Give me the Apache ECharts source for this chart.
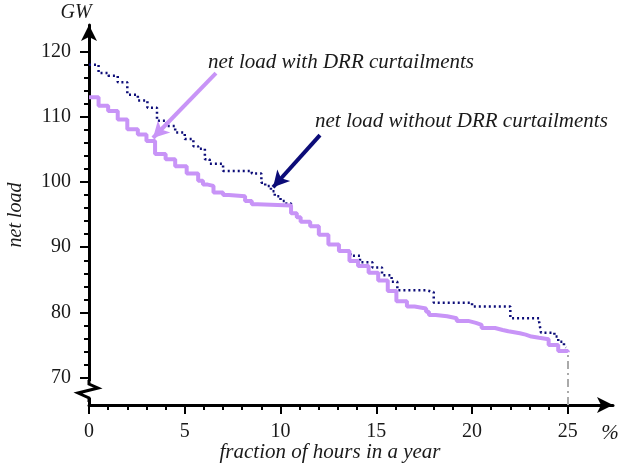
<!DOCTYPE html>
<html><head><meta charset="utf-8">
<script src="https://cdn.jsdelivr.net/npm/echarts@6/dist/echarts.min.js"></script>
<style>html,body{margin:0;padding:0;background:#fff}#c{width:618px;height:468px}</style>
</head><body><div id="c"></div>
<script>
// fraction of hours in a year (%) where each load level starts
const withDrrX = [0,0.5,1.0,1.5,2.0,2.55,3.0,3.45,4.0,4.5,5.1,5.7,5.95,6.2,6.5,7.0,7.3,8.15,8.5,8.8,10.55,10.85,11.05,11.55,12.0,12.5,13.05,13.6,14.05,14.6,15.1,15.6,16.05,16.6,17.0,17.6,17.75,18.1,18.7,19.2,19.8,20.2,20.5,21.2,21.6,21.9,22.5,22.8,23.1,23.5,24.0,24.5,25.0];
const withDrrY = [113.0,111.7,110.9,109.6,108.1,107.3,106.3,104.3,103.5,102.4,101.3,100.2,99.6,99.4,98.4,98.0,97.8,97.1,96.6,96.4,95.2,94.6,93.9,93.2,91.9,90.4,89.4,87.9,87.1,86.1,84.9,83.3,81.7,80.9,80.6,80.1,79.6,79.4,79.1,78.7,78.4,78.1,77.6,77.3,77.1,76.8,76.6,76.3,76.1,75.9,75.0,74.1,73.9];
const withoutDrrX = [0,0.5,1.0,1.5,2.0,2.55,3.05,3.55,4.05,4.5,5.0,5.45,5.7,6.05,6.3,7.0,8.5,9.0,9.2,9.5,9.7,10.0,10.3,10.55,10.85,11.05,11.55,12.0,12.5,13.05,13.65,14.15,14.8,15.3,15.8,16.1,17.6,18.0,20.0,22.0,23.5,23.6,24.3,24.5,24.8,24.9];
const withoutDrrY = [118.0,116.7,116.3,115.3,113.4,112.5,111.4,109.4,108.6,107.6,106.6,105.5,105.1,103.5,102.8,101.7,101.3,99.9,99.4,98.6,97.8,97.1,96.7,95.2,94.6,93.9,93.2,91.9,90.4,89.4,88.7,87.7,86.9,85.7,84.7,83.4,83.1,81.5,80.9,79.1,78.6,76.9,76.3,75.5,74.9,74.6];

const xMajorTicks = [0,5,10,15,20,25];
const xMinorTicks = [1,2,3,4,6,7,8,9,11,12,13,14,16,17,18,19,21,22,23,24];
const yMajorTicks = [70,80,90,100,110,120];
const yMinorTicks = [72,74,76,78,82,84,86,88,92,94,96,98,102,104,106,108,112,114,116,118];
const xRange = [0,27.36];
const yRange = [65.8,124.08];

const labelWith = 'net load with DRR curtailments';
const labelWithout = 'net load without DRR curtailments';
const arrowWith = [[6.63,116.7],[3.34,106.75]];
const arrowWithout = [[12.06,107.2],[9.61,99.2]];
const endMarker = [[25,65.8],[25,73.9]];

const PURPLE = '#c894f7';
const NAVY = '#0c0c78';
const FONT = "'Liberation Serif', 'Times New Roman', serif";

const chart = echarts.init(document.getElementById('c'), null, {renderer:'canvas'});
const toPairs = (xs, ys) => xs.map((x,i)=>[x,ys[i]]);

const option = {
  animation:false,
  backgroundColor:'#fff',
  textStyle:{fontFamily:FONT},
  grid:{left:89,right:5,top:25,bottom:63,containLabel:false,outerBoundsMode:'none'},
  xAxis:[{
    type:'value', min:xRange[0], max:xRange[1], position:'bottom',
    axisLine:{show:true,lineStyle:{color:'#000',width:3},symbol:['none','arrow'],symbolSize:[12,16]},
    axisTick:{show:true,customValues:xMajorTicks,length:9,lineStyle:{color:'#000',width:2}},
    axisLabel:{show:true,customValues:xMajorTicks,margin:17,color:'#1a1a1a',fontSize:20,fontFamily:FONT},
    splitLine:{show:false}
  },{
    type:'value', min:xRange[0], max:xRange[1], position:'bottom', gridIndex:0,
    axisLine:{show:false},
    axisTick:{show:true,customValues:xMinorTicks,length:5,lineStyle:{color:'#000',width:2}},
    axisLabel:{show:false},
    splitLine:{show:false}
  }],
  yAxis:[{
    type:'value', min:yRange[0], max:yRange[1], position:'left',
    name:'net load', nameLocation:'middle', nameGap:63, nameRotate:90,
    nameTextStyle:{fontFamily:FONT,fontStyle:'italic',fontSize:20,color:'#1a1a1a'},
    axisLine:{show:true,lineStyle:{color:'#000',width:3},symbol:['none','arrow'],symbolSize:[12,16]},
    axisTick:{show:true,customValues:yMajorTicks,length:9,lineStyle:{color:'#000',width:2}},
    axisLabel:{show:true,customValues:yMajorTicks,margin:18,color:'#1a1a1a',fontSize:20,fontFamily:FONT},
    splitLine:{show:false}
  },{
    type:'value', min:yRange[0], max:yRange[1], position:'left', gridIndex:0,
    axisLine:{show:false},
    axisTick:{show:true,customValues:yMinorTicks,length:5,lineStyle:{color:'#000',width:2}},
    axisLabel:{show:false},
    splitLine:{show:false}
  }],
  series:[{
    name:labelWithout, type:'line', step:'end', xAxisIndex:0, yAxisIndex:0,
    data:toPairs(withoutDrrX, withoutDrrY), showSymbol:false, z:2,
    lineStyle:{color:NAVY,width:2.5,type:[2,3]},
    markLine:{silent:true,symbol:['none','arrow'],symbolSize:[13,16],label:{show:false},
      lineStyle:{color:NAVY,width:4,type:'solid'},
      data:[[{coord:arrowWithout[0]},{coord:arrowWithout[1]}]]}
  },{
    name:labelWith, type:'line', step:'end', xAxisIndex:0, yAxisIndex:0,
    data:toPairs(withDrrX, withDrrY), showSymbol:false, z:3,
    lineStyle:{color:PURPLE,width:4},
    markLine:{silent:true,symbol:['none','none'],label:{show:false},
      data:[
        [{coord:arrowWith[0],symbol:'none',lineStyle:{color:PURPLE,width:4,type:'solid'}},{coord:arrowWith[1],symbol:'arrow',symbolSize:[13,16]}],
        [{coord:endMarker[0],lineStyle:{color:'#aaa',width:2,type:[8,4,2,4]}},{coord:endMarker[1]}]
      ]}
  }],
  graphic:[
    {type:'rect',shape:{x:85,y:381,width:9,height:17},style:{fill:'#fff'},z:100},
    {type:'polyline',shape:{points:[[89,380],[89,384],[98,388],[78,393],[89,398],[89,402]]},style:{stroke:'#000',lineWidth:3,fill:null},z:101},
    {type:'text',x:76,y:13,style:{text:'GW',font:"italic 20px "+FONT,fill:'#1a1a1a',align:'center',verticalAlign:'middle'},z:100},
    {type:'text',x:610,y:433,style:{text:'%',font:"italic 21px "+FONT,fill:'#1a1a1a',align:'center',verticalAlign:'middle'},z:100},
    {type:'text',x:330,y:452,style:{text:'fraction of hours in a year',font:"italic 21px "+FONT,fill:'#1a1a1a',align:'center',verticalAlign:'middle'},z:100},
    {type:'text',x:208,y:62,style:{text:labelWith,font:"italic 21px "+FONT,fill:'#1a1a1a',align:'left',verticalAlign:'middle'},z:100},
    {type:'text',x:315,y:121,style:{text:labelWithout,font:"italic 21px "+FONT,fill:'#1a1a1a',align:'left',verticalAlign:'middle'},z:100}
  ]
};
chart.setOption(option);
</script>
</body></html>
